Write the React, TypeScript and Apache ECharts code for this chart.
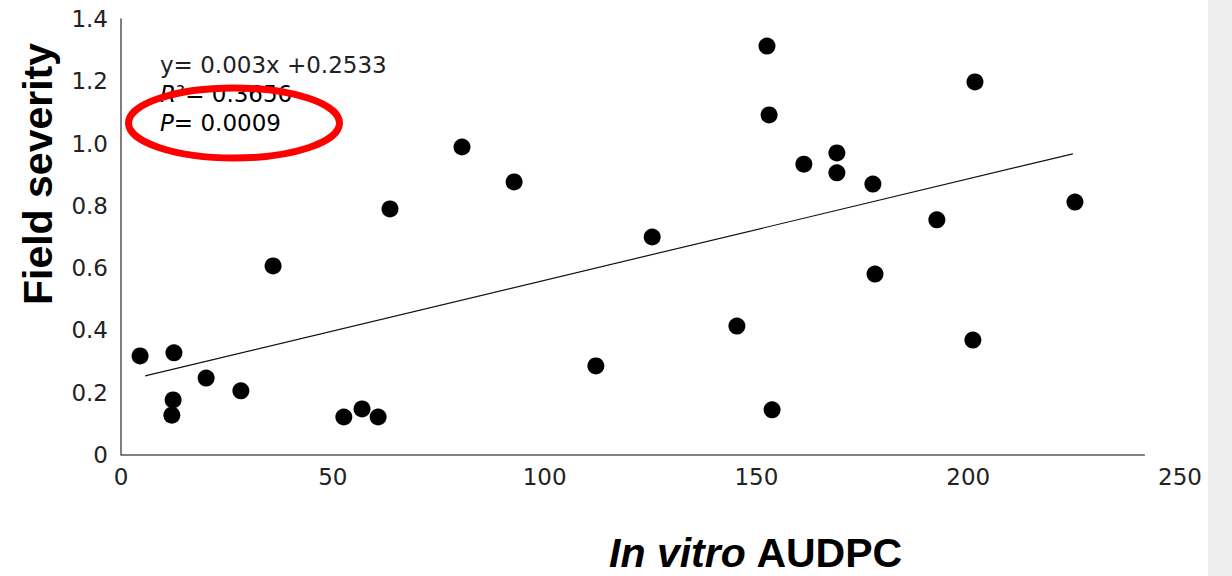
import React, { useEffect, useRef } from "react";
import * as echarts from "echarts";

const xValues = [4.5, 12.5, 12.3, 12.0, 20.1, 28.3, 35.9, 52.6, 56.9, 60.7, 63.5, 80.5, 92.8, 112.1, 125.4, 145.4, 152.5, 153.0, 153.7, 161.2, 169.0, 169.0, 177.5, 178.0, 192.6, 201.6, 201.1, 225.2];
const yValues = [0.318, 0.328, 0.177, 0.128, 0.247, 0.206, 0.607, 0.122, 0.148, 0.122, 0.79, 0.989, 0.877, 0.286, 0.70, 0.414, 1.313, 1.092, 0.145, 0.934, 0.97, 0.906, 0.87, 0.581, 0.755, 1.198, 0.369, 0.812];
const trendX = [5.7, 224.7];
const trendY = [0.254, 0.967];
const xTicks = [0, 50, 100, 150, 200, 250];
const yTicks = [0, 0.2, 0.4, 0.6, 0.8, 1.0, 1.2, 1.4];
const xAxisLineEnd = 241.7;
const equationText = "y= 0.003x +0.2533";
const r2Text = "0.3656";
const pText = "0.0009";

export default function App() {
  const ref = useRef<HTMLDivElement>(null);
  useEffect(() => {
    if (!ref.current) return;
    const chart = echarts.init(ref.current, null, { renderer: "svg" });
    const points = xValues.map((x, i) => [x, yValues[i]]);
    const trend = trendX.map((x, i) => [x, trendY[i]]);
    const tickFont = { fontFamily: "DejaVu Sans", fontSize: 23, color: "#222" };
    const annot = { fontFamily: "DejaVu Sans", fontSize: 23, color: "#222" };
    chart.setOption({
      animation: false,
      backgroundColor: "#ffffff",
      grid: { left: 121, top: 19, right: 52, bottom: 121, containLabel: false },
      xAxis: {
        type: "value",
        min: xTicks[0],
        max: xTicks[xTicks.length - 1],
        interval: xTicks[1] - xTicks[0],
        axisLine: { show: false },
        axisTick: { show: false },
        splitLine: { show: false },
        axisLabel: { ...tickFont, margin: 10 },
      },
      yAxis: {
        type: "value",
        min: yTicks[0],
        max: yTicks[yTicks.length - 1],
        interval: 0.2,
        axisLine: { show: true, lineStyle: { color: "#555", width: 1.5 } },
        axisTick: { show: false },
        splitLine: { show: false },
        axisLabel: {
          ...tickFont,
          margin: 13,
          formatter: (v: number) => (v === 0 ? "0" : v.toFixed(1)),
        },
      },
      series: [
        {
          type: "line",
          data: trend,
          symbol: "none",
          lineStyle: { color: "#111", width: 1.2 },
          z: 2,
        },
        {
          type: "scatter",
          data: points,
          symbol: "circle",
          symbolSize: 17,
          itemStyle: { color: "#000", opacity: 1 },
          z: 3,
          markLine: {
            silent: true,
            symbol: ["none", "none"],
            label: { show: false },
            lineStyle: { color: "#555", width: 1.5, type: "solid" },
            data: [[{ coord: [0, 0] }, { coord: [xAxisLineEnd, 0] }]],
          },
        },
      ],
      graphic: [
        {
          type: "rect",
          shape: { x: 1208, y: 0, width: 24, height: 576 },
          style: { fill: "#eeeeee" },
          silent: true,
        },
        {
          type: "text",
          x: 160,
          y: 65,
          style: {
            text: equationText,
            font: "23px 'DejaVu Sans'",
            fill: "#222",
            verticalAlign: "middle",
          },
          z: 10,
        },
        {
          type: "text",
          x: 160,
          y: 94,
          style: {
            text: "{i|R}{n|²= " + r2Text + "}",
            verticalAlign: "middle",
            rich: {
              i: { ...annot, fontStyle: "italic" },
              n: { ...annot },
            },
          },
          z: 10,
        },
        {
          type: "text",
          x: 160,
          y: 123,
          style: {
            text: "{i|P}{n|= " + pText + "}",
            verticalAlign: "middle",
            rich: {
              i: { ...annot, fontStyle: "italic" },
              n: { ...annot },
            },
          },
          z: 10,
        },
        {
          type: "ellipse",
          shape: { cx: 234, cy: 123, rx: 105.5, ry: 35 },
          style: { fill: "none", stroke: "#ff0000", lineWidth: 7 },
          z: 20,
        },
        {
          type: "text",
          x: 38,
          y: 174,
          rotation: Math.PI / 2,
          style: {
            text: "Field severity",
            font: "bold 41px 'Liberation Sans'",
            fill: "#000",
            align: "center",
            verticalAlign: "middle",
          },
          z: 10,
        },
        {
          type: "text",
          x: 756,
          y: 553,
          style: {
            text: "{i|In vitro}{b| AUDPC}",
            align: "center",
            verticalAlign: "middle",
            rich: {
              i: { fontFamily: "Liberation Sans", fontWeight: "bold", fontStyle: "italic", fontSize: 41, color: "#000" },
              b: { fontFamily: "Liberation Sans", fontWeight: "bold", fontSize: 41, color: "#000" },
            },
          },
          z: 10,
        },
      ],
    });
    return () => chart.dispose();
  }, []);
  return (
    <div
      ref={ref}
      style={{ position: "fixed", left: 0, top: 0, width: 1232, height: 576, background: "#fff" }}
    />
  );
}
